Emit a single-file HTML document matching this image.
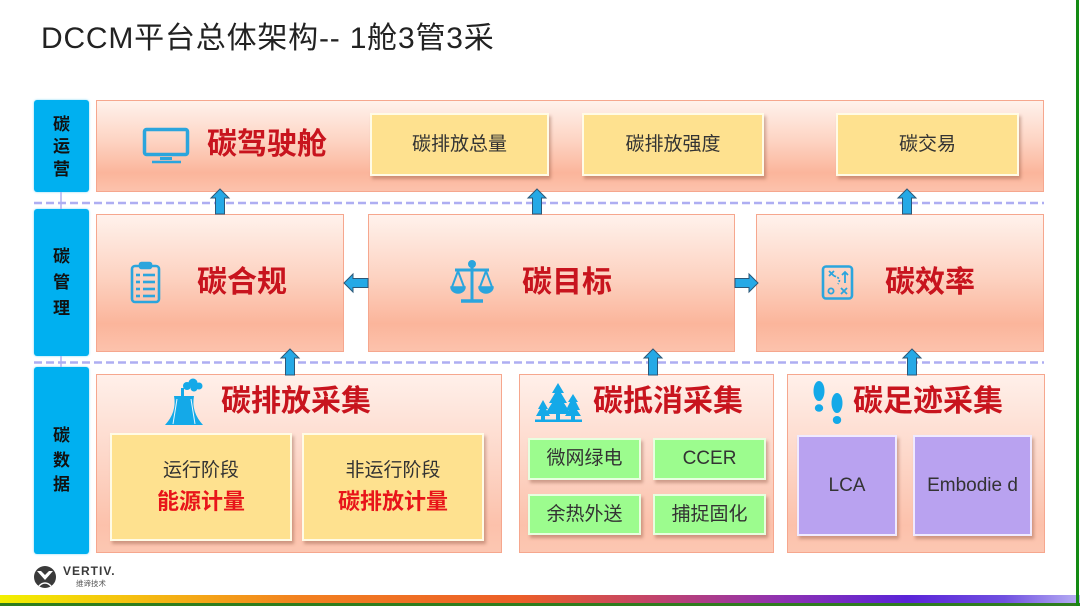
<!DOCTYPE html>
<html><head><meta charset="utf-8">
<style>
*{margin:0;padding:0;box-sizing:border-box;}
html,body{width:1080px;height:606px;overflow:hidden;background:#fff;}
body{position:relative;font-family:"Liberation Sans","Noto Sans CJK SC",sans-serif;}
.a{position:absolute;}
.title{left:41px;top:22px;font-size:30px;line-height:34px;color:#222;letter-spacing:0.8px;white-space:nowrap;}
.lab{position:absolute;left:34px;width:55px;background:#00b0f0;border-radius:3px;box-shadow:0 0 2px #7fd8f8;}
.labt{position:absolute;left:0;width:55px;text-align:center;font-size:17px;font-weight:bold;color:#111;line-height:17px;font-family:"Liberation Sans","Noto Sans CJK SC",sans-serif;}
.big{position:absolute;border:1px solid #f6a78e;background:linear-gradient(to bottom,#fff2ec 0%,#fdd3c2 45%,#fbb59b 80%,#fcc2ac 100%);}
.low{position:absolute;border:1px solid #f6a78e;background:linear-gradient(to bottom,#fff0ea 0%,#fdd8ca 45%,#fcc1ab 85%,#fcc7b2 100%);}
.yb{position:absolute;background:#fee18f;border:2px solid #fffbe6;box-shadow:2px 3px 3px rgba(120,60,40,0.35);color:#333;font-size:19px;text-align:center;}
.gb{position:absolute;background:#9cfc8e;border:2px solid #e8ffe0;box-shadow:2px 3px 3px rgba(120,60,40,0.35);color:#333;font-size:19px;text-align:center;}
.pb{position:absolute;background:#b9a2f0;border:2px solid #f0eaff;box-shadow:2px 3px 3px rgba(120,60,40,0.35);color:#333;font-size:19px;text-align:center;}
.red{position:absolute;color:#c8141e;font-weight:bold;font-size:30px;line-height:30px;white-space:nowrap;}
</style></head><body>

<div class="a title">DCCM平台总体架构-- 1舱3管3采</div>

<!-- left labels -->
<div class="lab" style="top:100px;height:92px;">
  <div class="labt" style="top:16px;">碳</div>
  <div class="labt" style="top:38px;">运</div>
  <div class="labt" style="top:61px;">营</div>
</div>
<div class="lab" style="top:209px;height:147px;">
  <div class="labt" style="top:39px;">碳</div>
  <div class="labt" style="top:65px;">管</div>
  <div class="labt" style="top:91px;">理</div>
</div>
<div class="lab" style="top:367px;height:187px;">
  <div class="labt" style="top:60px;">碳</div>
  <div class="labt" style="top:85px;">数</div>
  <div class="labt" style="top:109px;">据</div>
</div>

<!-- row 1 -->
<div class="big" style="left:96px;top:100px;width:948px;height:92px;"></div>
<div class="red" style="left:207px;top:130px;">碳驾驶舱</div>
<div class="yb" style="left:370px;top:113px;width:179px;height:63px;line-height:59px;">碳排放总量</div>
<div class="yb" style="left:582px;top:113px;width:182px;height:63px;line-height:59px;">碳排放强度</div>
<div class="yb" style="left:836px;top:113px;width:183px;height:63px;line-height:59px;">碳交易</div>

<!-- row 2 -->
<div class="big" style="left:96px;top:214px;width:248px;height:138px;"></div>
<div class="big" style="left:368px;top:214px;width:367px;height:138px;"></div>
<div class="big" style="left:756px;top:214px;width:288px;height:138px;"></div>
<div class="red" style="left:197px;top:268px;">碳合规</div>
<div class="red" style="left:522px;top:268px;">碳目标</div>
<div class="red" style="left:885px;top:268px;">碳效率</div>

<!-- row 3 -->
<div class="low" style="left:96px;top:374px;width:406px;height:179px;"></div>
<div class="low" style="left:519px;top:374px;width:255px;height:179px;"></div>
<div class="low" style="left:787px;top:374px;width:258px;height:179px;"></div>
<div class="red" style="left:221px;top:387px;">碳排放采集</div>
<div class="red" style="left:593px;top:387px;">碳抵消采集</div>
<div class="red" style="left:853px;top:387px;">碳足迹采集</div>

<div class="yb" style="left:110px;top:433px;width:182px;height:108px;">
  <div style="position:absolute;left:0;right:0;top:26px;line-height:20px;font-size:19px;color:#333;">运行阶段</div>
  <div style="position:absolute;left:0;right:0;top:56px;line-height:22px;font-size:22px;color:#e8141a;font-weight:bold;">能源计量</div>
</div>
<div class="yb" style="left:302px;top:433px;width:182px;height:108px;">
  <div style="position:absolute;left:0;right:0;top:26px;line-height:20px;font-size:19px;color:#333;">非运行阶段</div>
  <div style="position:absolute;left:0;right:0;top:56px;line-height:22px;font-size:22px;color:#e8141a;font-weight:bold;">碳排放计量</div>
</div>

<div class="gb" style="left:528px;top:438px;width:113px;height:42px;line-height:38px;">微网绿电</div>
<div class="gb" style="left:653px;top:438px;width:113px;height:42px;line-height:38px;">CCER</div>
<div class="gb" style="left:528px;top:494px;width:113px;height:41px;line-height:37px;">余热外送</div>
<div class="gb" style="left:653px;top:494px;width:113px;height:41px;line-height:37px;">捕捉固化</div>

<div class="pb" style="left:797px;top:435px;width:100px;height:101px;line-height:97px;">LCA</div>
<div class="pb" style="left:913px;top:435px;width:119px;height:101px;line-height:97px;">Embodie d</div>

<!-- overlay svg -->
<svg class="a" style="left:0;top:0;" width="1080" height="606" viewBox="0 0 1080 606">
  <defs>
    <linearGradient id="bar" x1="0" x2="1" y1="0" y2="0">
      <stop offset="0" stop-color="#f2f000"/>
      <stop offset="0.12" stop-color="#f5c010"/>
      <stop offset="0.28" stop-color="#f28020"/>
      <stop offset="0.48" stop-color="#ec5e28"/>
      <stop offset="0.6" stop-color="#c44468"/>
      <stop offset="0.72" stop-color="#9032b0"/>
      <stop offset="0.84" stop-color="#5a24d8"/>
      <stop offset="0.93" stop-color="#7050e0"/>
      <stop offset="1" stop-color="#b8b0f4"/>
    </linearGradient>
  </defs>

  <!-- connectors between labels -->
  <line x1="61" y1="192" x2="61" y2="209" stroke="#b0b0f0" stroke-width="1.5"/>
  <line x1="61" y1="356" x2="61" y2="367" stroke="#b0b0f0" stroke-width="1.5"/>

  <!-- dashed separators -->
  <line x1="34" y1="203" x2="1044" y2="203" stroke="#aeaef2" stroke-width="2.5" stroke-dasharray="8,4"/>
  <line x1="34" y1="362.5" x2="1044" y2="362.5" stroke="#aeaef2" stroke-width="2.5" stroke-dasharray="8,4"/>

  <!-- arrows -->
  <g fill="#25a9e6" stroke="#2c5878" stroke-width="1">
    <polygon points="220,189 229,198 224.5,198 224.5,214 215.5,214 215.5,198 211,198"/>
    <polygon points="537,189 546,198 541.5,198 541.5,214 532.5,214 532.5,198 528,198"/>
    <polygon points="907,189 916,198 911.5,198 911.5,214 902.5,214 902.5,198 898,198"/>
    <polygon points="290,349 299,358 294.5,358 294.5,375 285.5,375 285.5,358 281,358"/>
    <polygon points="653,349 662,358 657.5,358 657.5,375 648.5,375 648.5,358 644,358"/>
    <polygon points="912,349 921,358 916.5,358 916.5,375 907.5,375 907.5,358 903,358"/>
    <polygon points="344,283 353,274 353,278.5 368,278.5 368,287.5 353,287.5 353,292"/>
    <polygon points="758,283 749,274 749,278.5 735,278.5 735,287.5 749,287.5 749,292"/>
  </g>

  <!-- monitor icon -->
  <g stroke="#2ba5dd" fill="none">
    <rect x="144.5" y="129.5" width="43" height="25" rx="2" stroke-width="3.5"/>
    <line x1="160" y1="158.5" x2="172" y2="158.5" stroke-width="3"/>
    <line x1="152" y1="162" x2="181" y2="162" stroke-width="2.5"/>
  </g>

  <!-- clipboard icon -->
  <g stroke="#2ba5dd" fill="none" stroke-width="2.6">
    <rect x="132" y="266" width="27" height="36" rx="3"/>
    <rect x="140" y="263" width="11" height="5" rx="1.5" fill="#2ba5dd"/>
    <line x1="136" y1="275" x2="140" y2="275"/><line x1="143" y1="275" x2="155" y2="275"/>
    <line x1="136" y1="282" x2="140" y2="282"/><line x1="143" y1="282" x2="155" y2="282"/>
    <line x1="136" y1="289" x2="140" y2="289"/><line x1="143" y1="289" x2="155" y2="289"/>
    <line x1="136" y1="296" x2="140" y2="296"/><line x1="143" y1="296" x2="155" y2="296"/>
  </g>

  <!-- scale icon -->
  <g stroke="#2ba5dd" fill="none" stroke-width="3">
    <line x1="472" y1="265" x2="472" y2="300"/>
    <line x1="461" y1="301" x2="483" y2="301" stroke-width="3.5"/>
    <line x1="455" y1="270" x2="489" y2="270"/>
    <circle cx="472" cy="264" r="2.5" fill="#2ba5dd"/>
    <path d="M458,271 L452,287 M458,271 L464,287" stroke-width="2"/>
    <path d="M451,287 A7,6 0 0 0 465,287 Z" fill="#2ba5dd" stroke-width="1.5"/>
    <path d="M486,271 L480,287 M486,271 L492,287" stroke-width="2"/>
    <path d="M479,287 A7,6 0 0 0 493,287 Z" fill="#2ba5dd" stroke-width="1.5"/>
  </g>

  <!-- efficiency icon -->
  <g stroke="#2ba5dd" fill="none" stroke-width="2.6">
    <rect x="823" y="266.5" width="29" height="32" rx="3"/>
    <g stroke-width="1.8">
      <path d="M829,271 l5,5 M834,271 l-5,5"/>
      <path d="M845,283 l0,-11 M842,275 l3,-3 l3,3"/>
      <path d="M834,276 q8,2 4,8" stroke-dasharray="2,1.5"/>
      <circle cx="831" cy="291" r="2.6"/>
      <path d="M841,288 l6,6 M847,288 l-6,6"/>
    </g>
  </g>

  <!-- cooling tower icon -->
  <g fill="#14a9e8">
    <path d="M165,425 Q177,412 174,396 L194,396 Q191,412 203,425 Z"/>
    <line x1="177" y1="399" x2="173" y2="424" stroke="#e8f6fd" stroke-width="1"/>
    <line x1="191" y1="399" x2="195" y2="424" stroke="#e8f6fd" stroke-width="1"/>
    <rect x="181" y="388" width="3" height="9"/>
    <circle cx="187" cy="386" r="4"/>
    <circle cx="193" cy="383" r="4.5"/>
    <circle cx="199" cy="386" r="3.5"/>
    <circle cx="194" cy="388" r="3.5"/>
  </g>

  <!-- trees icon -->
  <g fill="#14a9e8">
    <path d="M558,383 L552,393 L555,393 L549,403 L552,403 L545,414 L556,414 L556,421 L560,421 L560,414 L571,414 L564,403 L567,403 L561,393 L564,393 Z"/>
    <path d="M543,400 L538,409 L540,409 L536,416 L541,416 L541,421 L545,421 L545,416 L550,416 L546,409 L548,409 Z"/>
    <path d="M573,394 L568,402 L570,402 L566,410 L569,410 L565,416 L571,416 L571,421 L575,421 L575,416 L581,416 L577,410 L580,410 L576,402 L578,402 Z"/>
    <rect x="535" y="419.5" width="47" height="2.5"/>
  </g>

  <!-- footprints icon -->
  <g fill="#14a9e8">
    <ellipse cx="819" cy="391" rx="5.5" ry="10"/>
    <ellipse cx="819" cy="408" rx="4.2" ry="3.8"/>
    <ellipse cx="837" cy="403" rx="5.5" ry="10"/>
    <ellipse cx="837" cy="420" rx="4.2" ry="4"/>
  </g>

  <!-- vertiv logo -->
  <circle cx="45" cy="577" r="11" fill="#3a3a3a"/>
  <path d="M37,571 L45,580 L53,571 L49,571 L45,575 L41,571 Z" fill="#fff"/>
  <path d="M39,586 Q45,580 51,586" stroke="#fff" stroke-width="1.5" fill="none"/>
  <text x="63" y="575" font-family="Liberation Sans, sans-serif" font-size="12" font-weight="bold" fill="#3a3a3a" letter-spacing="1">VERTIV.</text>
  <text x="76" y="586" font-family="Liberation Sans, Noto Sans CJK SC, sans-serif" font-size="7.5" fill="#555">维谛技术</text>

  <!-- bottom bar -->
  <rect x="0" y="595" width="1080" height="8" fill="url(#bar)"/>
  <rect x="0" y="603" width="1080" height="3" fill="#2e7d1e"/>
  <!-- right green line -->
  <rect x="1076" y="0" width="3" height="606" fill="#138a13"/>
</svg>

</body></html>
